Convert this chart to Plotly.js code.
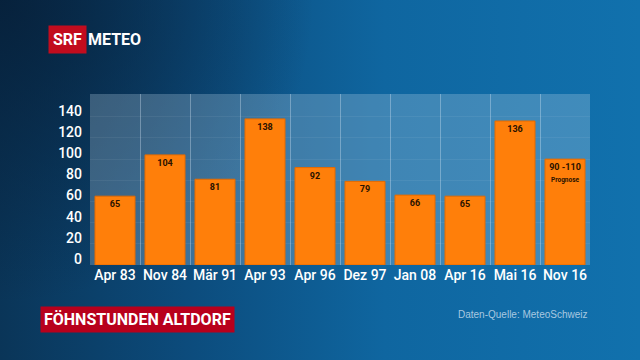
<!DOCTYPE html>
<html>
<head>
<meta charset="utf-8">
<script src="https://cdn.plot.ly/plotly-3.0.1.min.js"></script>
<style>
  html, body { margin:0; padding:0; }
  body {
    width:640px; height:360px; overflow:hidden;
    background:
      radial-gradient(ellipse 70% 120% at 0% 0%, rgba(6,30,55,0.85) 0%, rgba(6,30,55,0.0) 70%),
      linear-gradient(to right, #0a3558 0%, #0c4c7d 30%, #0f66a0 60%, #1171ad 100%);
  }
  #chart { width:640px; height:360px; }
</style>
</head>
<body>
<div id="chart"></div>
<script>
const categories = ["Apr 83","Nov 84","Mär 91","Apr 93","Apr 96","Dez 97","Jan 08","Apr 16","Mai 16","Nov 16"];
const values = [65, 104, 81, 138, 92, 79, 66, 65, 136, 100];
const barLabels = ["65","104","81","138","92","79","66","65","136",
  "90 -110<br><span style=\"font-size:6.5px\">Prognose</span>"];
const yTicks = [0, 20, 40, 60, 80, 100, 120, 140];

const trace = {
  type: "bar",
  x: categories,
  y: values,
  text: barLabels,
  textposition: "inside",
  insidetextanchor: "end",
  textangle: 0,
  constraintext: "none",
  textfont: { family: "Roboto, sans-serif", size: 9, color: "#2a1200", weight: 700 },
  marker: { color: "#ff7f0a", line: { color: "#e46a00", width: 1 } },
  hoverinfo: "skip"
};

const layout = {
  width: 640, height: 360,
  margin: { l: 90, r: 50, t: 94, b: 95, pad: 0 },
  paper_bgcolor: "rgba(0,0,0,0)",
  plot_bgcolor: "rgba(190,215,235,0.28)",
  bargap: 0.2,
  showlegend: false,
  xaxis: {
    type: "category",
    tickson: "boundaries",
    tickangle: 0,
    showgrid: true,
    gridcolor: "rgba(220,235,250,0.35)",
    gridwidth: 1,
    ticks: "",
    showline: false,
    zeroline: false,
    tickfont: { family: "Roboto, sans-serif", size: 14, color: "#ffffff", weight: 500 },
    ticklabelstandoff: 0
  },
  yaxis: {
    range: [0, 161.5],
    tickvals: yTicks,
    ticktext: yTicks.map(String),
    showgrid: true,
    gridcolor: "rgba(255,255,255,0.06)",
    zeroline: false,
    ticks: "",
    ticklabelshift: -6,
    ticklabelstandoff: 7,
    tickfont: { family: "Roboto, sans-serif", size: 14, color: "#ffffff", weight: 500 }
  },
  annotations: [
    { xref: "paper", yref: "paper", x: (48 - 90) / 500, y: (265 - 40) / 171,
      xanchor: "left", yanchor: "middle", showarrow: false,
      text: "<b>SRF</b>", bgcolor: "#c20c1e", borderpad: 4,
      font: { family: "Roboto, sans-serif", size: 16, color: "#ffffff" } },
    { xref: "paper", yref: "paper", x: (86 - 90) / 500, y: (265 - 40) / 171,
      xanchor: "left", yanchor: "middle", showarrow: false,
      text: "<b>METEO</b>",
      font: { family: "Roboto, sans-serif", size: 16, color: "#ffffff" } },
    { xref: "paper", yref: "paper", x: (40 - 90) / 500, y: (265 - 319) / 171,
      xanchor: "left", yanchor: "middle", showarrow: false,
      text: "<b>FÖHNSTUNDEN ALTDORF</b>", bgcolor: "#b8001c", borderpad: 3,
      font: { family: "Roboto, sans-serif", size: 16, color: "#ffffff" } },
    { xref: "paper", yref: "paper", x: 1.0, y: (265 - 314) / 171,
      xanchor: "right", yanchor: "middle", showarrow: false,
      text: "Daten-Quelle: MeteoSchweiz",
      font: { family: "Liberation Sans, Arial, sans-serif", size: 10, color: "#a8c8e0" } }
  ]
};

Plotly.newPlot("chart", [trace], layout, { staticPlot: true, displayModeBar: false });
</script>
</body>
</html>
